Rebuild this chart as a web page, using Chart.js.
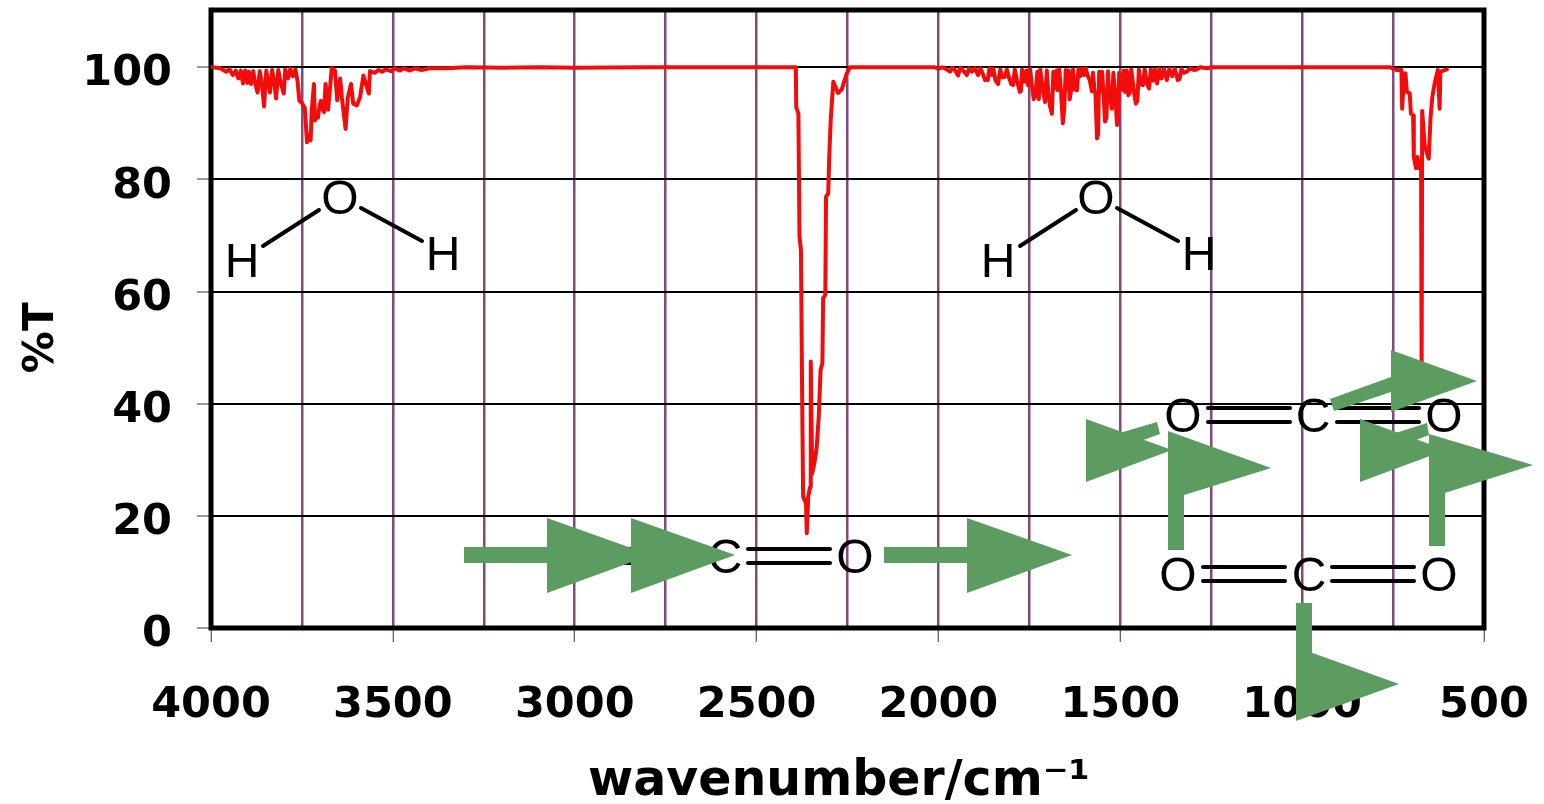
<!DOCTYPE html>
<html>
<head>
<meta charset="utf-8">
<title>IR spectrum</title>
<script src="https://cdn.jsdelivr.net/npm/chart.js@4"></script>
<style>
  body { margin: 0; background: #fff; }
  canvas { display: block; }
</style>
</head>
<body>
<canvas id="spectrum" width="1544" height="804"></canvas>
<script>
// spectrum, wavenumber/cm-1 and %T point by point
const wavenumbers = [
  3995,3975,3958,3950,3940,3932,3925,3918,3912,3906,3900,3896,3890,3884,3878,3872,3866,3860,3854,3848,
  3842,3838,3832,3826,3821,3815,3809,3800,3796,3788,3782,3775,3768,3762,3757,3750,3742,3736,3731,3726,
  3723,3717,3714,3709,3706,3702,3698,3693,3689,3685,3681,3678,3668,3659,3653,3645,3640,3630,3624,3615,
  3609,3599,3590,3581,3566,3563,3550,3540,3530,3520,3505,3495,3480,3470,3453,3440,3421,3400,3375,3350,
  3300,3200,3100,3000,2800,2600,2400,
  2392,2391,2385,2382,2378,2375,2372,2364,2362,2358,2353,2351,2347,2341,2335,2329,2324,2319,2317,2311,
  2309,2303,2300,2296,2289,2276,2266,2252,2243,2200,2100,2040,
  2010,2000,1990,1980,1968,1962,1955,1946,1940,1932,1922,1916,1908,1900,1891,1885,1878,1872,1868,1864,
  1860,1853,1849,1843,1836,1830,1824,1817,1812,1806,1800,1795,1790,1784,1776,1773,1770,1764,1758,1754,
  1748,1743,1738,1733,1728,1724,1720,1714,1707,1702,1698,1693,1688,1684,1680,1675,1672,1668,1663,1658,
  1654,1650,1646,1642,1639,1635,1630,1625,1619,1615,1610,1606,1600,1595,1589,1584,1578,1575,1571,1568,
  1564,1561,1558,1554,1550,1545,1542,1538,1534,1530,1526,1523,1519,1515,1512,1509,1506,1503,1499,1495,
  1491,1487,1482,1478,1474,1470,1464,1460,1457,1453,1449,1444,1438,1433,1427,1421,1416,1410,1405,1399,
  1393,1387,1380,1372,1365,1357,1350,1342,1337,1332,1325,1317,1308,1298,1290,1280,1262,1250,1200,1000,
  800,759,741,727,725,720,716,712,704,701,695,693,687,683,678,673,672,671,670,663,
  652,647,642,636,627,622,620,602
];

const transmittance = [
  100,99.8,99.2,99.7,98.6,99.4,98,99.4,97.1,99.4,97.2,99.2,97,99.3,97,95.5,99.3,97,93,99.4,
  97,95.5,99.5,97.2,94.4,99.5,97.4,95.3,99.6,98,99.7,98.4,99.6,97.5,94,93.6,92.7,86.6,88,87,
  92.3,97,90.5,91.5,91,93,94,92.5,92,97,94,92.4,99.8,99.4,94.1,98,94.5,89,94.5,97,
  93.5,93.2,94.7,98.5,95.3,99.3,99,99.5,99.2,99.6,99.3,99.8,99.4,99.8,99.4,99.8,99.5,99.8,99.8,99.8,
  100,99.9,100,99.9,100,100,100,
  100,92.9,91.7,69.8,67.4,43.6,23.4,22.2,16.9,23.4,25.1,47.5,27.6,29.4,32,37.7,46,47.2,58.8,59.4,
  76.9,77.5,84.3,90.8,97.4,95.4,96,98.9,100,100,100,100,
  100,99.7,100,99.7,99.2,99.9,99.5,98.5,99.9,99.4,98.6,99.8,99.2,99.8,98.6,99.8,98.8,97.7,98,97.7,
  99.8,98.6,99.7,97.6,97,99.6,98.2,98.3,99.6,98.2,97,96.8,99.6,97.6,95.6,95.8,99.6,97.4,99.4,96.8,
  99.7,96.8,94.3,95,99.2,94.3,99.6,96.4,93.8,99.4,95.5,93,91.7,99.2,96.2,99.4,95.9,99.6,95.8,90,
  92.6,99.5,96.2,99.4,94.3,96,99.6,96,95.9,99.7,98.4,99.7,98.6,99.8,98.4,97.7,95.7,99,96,95,
  87.3,88,99.2,95.8,99.2,94,90.3,91,99.3,95,94,92.6,99,96,93,89.7,90,99,96.5,96,
  99.4,95.6,99.4,95,95.4,99.6,96.6,94.5,93.5,94,99.6,97,96.8,99.6,97.2,96.2,99.6,97.6,99.6,97.1,
  99.7,98,99.7,97.7,99.7,98.4,99.7,97.7,97.9,99.7,99,99.2,99.8,99.5,99.6,100,99.8,100,100,100,
  100,100,99.5,99.5,92.6,98,98.9,95.6,95.3,91.7,91.4,84,82,84,82,82,45,45,92.2,86,
  83.7,91,94.7,97,99.5,92.6,99.2,99.6
];

const yTicks = [0, 20, 40, 60, 80, 100];

const FONT = '"DejaVu Sans", sans-serif';
const ATOM_FONT = '48px "Liberation Sans", Arial, sans-serif';
const GREEN = '#5d9c60';

// drawn-on sketch of the molecules and their motions, in canvas pixels
const atoms = [
  ['O', 340, 199], ['H', 242, 262], ['H', 443, 255],
  ['O', 1096, 199], ['H', 998, 262], ['H', 1199, 255],
  ['O', 595, 558], ['C', 725, 558], ['O', 855, 558],
  ['O', 1183, 417], ['C', 1313, 417], ['O', 1444, 417],
  ['O', 1178, 576], ['C', 1309, 576], ['O', 1439, 576]
];

const bonds = [
  [263, 246, 319, 210], [361, 208, 422, 241],
  [1020, 246, 1076, 210], [1117, 208, 1178, 241],
  [620, 549, 703, 549], [620, 563, 703, 563], [748, 549, 830, 549], [748, 563, 830, 563],
  [1208, 408, 1290, 408], [1208, 422, 1290, 422], [1337, 408, 1419, 408], [1337, 422, 1419, 422],
  [1203, 567, 1285, 567], [1203, 581, 1285, 581], [1332, 567, 1414, 567], [1332, 581, 1414, 581]
];

const arrowShapes = [
  [[464, 547], [547, 547], [547, 563], [464, 563]],
  [[547, 518], [651, 555], [547, 593]],
  [[631, 518], [735, 555], [631, 593]],
  [[884, 547], [967, 547], [967, 563], [884, 563]],
  [[967, 518], [1072, 555], [967, 593]],
  [[1330, 399], [1391, 377], [1391, 392], [1334, 411]],
  [[1391, 350], [1477, 381], [1391, 412]],
  [[1157, 422], [1160, 434], [1110, 452], [1106, 437]],
  [[1086, 419], [1172, 450], [1086, 482]],
  [[1427, 423], [1429, 435], [1385, 452], [1380, 438]],
  [[1360, 419], [1446, 450], [1360, 482]],
  [[1168, 490], [1184, 490], [1184, 550], [1168, 550]],
  [[1168, 431], [1271, 468], [1168, 500]],
  [[1429, 490], [1445, 490], [1445, 546], [1429, 546]],
  [[1429, 434], [1533, 465], [1429, 498]],
  [[1296, 603], [1312, 603], [1312, 690], [1296, 690]],
  [[1296, 647], [1399, 684], [1296, 721]]
];

const framePlugin = {
  id: 'frame',
  beforeDatasetsDraw(chart) {
    const { ctx, chartArea: a } = chart;
    ctx.save();
    ctx.strokeStyle = '#000';
    ctx.lineWidth = 5;
    ctx.strokeRect(a.left, a.top, a.right - a.left, a.bottom - a.top);
    ctx.restore();
  }
};

const sketchPlugin = {
  id: 'sketch',
  afterDraw(chart) {
    const ctx = chart.ctx;
    ctx.save();

    ctx.strokeStyle = '#000';
    ctx.lineWidth = 4;
    ctx.lineCap = 'round';
    bonds.forEach(b => {
      ctx.beginPath();
      ctx.moveTo(b[0], b[1]);
      ctx.lineTo(b[2], b[3]);
      ctx.stroke();
    });

    ctx.fillStyle = '#000';
    ctx.font = ATOM_FONT;
    ctx.textAlign = 'center';
    ctx.textBaseline = 'middle';
    atoms.forEach(a => ctx.fillText(a[0], a[1], a[2] + 2));

    ctx.fillStyle = GREEN;
    arrowShapes.forEach(shape => {
      ctx.beginPath();
      shape.forEach((p, i) => i ? ctx.lineTo(p[0], p[1]) : ctx.moveTo(p[0], p[1]));
      ctx.closePath();
      ctx.fill();
    });

    ctx.restore();
  }
};

new Chart(document.getElementById('spectrum'), {
  type: 'line',
  data: {
    datasets: [{
      data: wavenumbers.map((w, i) => ({ x: w, y: transmittance[i] })),
      borderColor: '#f20c0c',
      borderWidth: 4,
      borderJoinStyle: 'round',
      borderCapStyle: 'round',
      pointRadius: 0,
      tension: 0,
      fill: false
    }]
  },
  options: {
    responsive: false,
    animation: false,
    layout: { padding: { top: 10, right: 60 } },
    plugins: { legend: { display: false }, tooltip: { enabled: false } },
    scales: {
      x: {
        type: 'linear',
        reverse: true,
        min: 500,
        max: 4000,
        afterFit(scale) {
          scale.height = 176;
          scale.paddingLeft = 0;
          scale.paddingRight = 0;
        },
        border: { display: false },
        grid: {
          color: '#84497c',
          lineWidth: 2.5,
          drawTicks: true,
          tickLength: 14,
          tickWidth: 1,
          tickColor: c => c.tick && c.tick.value % 500 === 0 ? '#333' : 'transparent'
        },
        ticks: {
          stepSize: 250,
          autoSkip: false,
          maxRotation: 0,
          padding: 38,
          color: '#000',
          font: { family: FONT, size: 43, weight: 'bold' },
          callback: v => v % 500 === 0 ? String(v) : ''
        },
        title: {
          display: true,
          text: 'wavenumber/cm\u207B\u00B9 ',
          color: '#000',
          font: { family: FONT, size: 49, weight: 'bold' },
          padding: { top: 0, bottom: -8 }
        }
      },
      y: {
        min: 0,
        max: 110.2,
        afterBuildTicks(scale) { scale.ticks = yTicks.map(v => ({ value: v })); },
        afterFit(scale) {
          scale.width = 211;
          scale.paddingTop = 0;
          scale.paddingBottom = 0;
        },
        border: { display: false },
        grid: {
          color: '#000',
          lineWidth: 2,
          tickLength: 14,
          tickWidth: 1,
          tickColor: '#333'
        },
        ticks: {
          padding: 25,
          color: '#000',
          // blank first line nudges the digits down onto the gridline
          font: { family: FONT, size: 43, weight: 'bold', lineHeight: 0.33 },
          callback: v => ['', String(v)]
        },
        title: {
          display: true,
          text: '%T\u00A0\u00A0\u2009',
          color: '#000',
          font: { family: FONT, size: 42, weight: 'bold' },
          padding: { top: 17, bottom: 0 }
        }
      }
    }
  },
  plugins: [framePlugin, sketchPlugin]
});
</script>
</body>
</html>
